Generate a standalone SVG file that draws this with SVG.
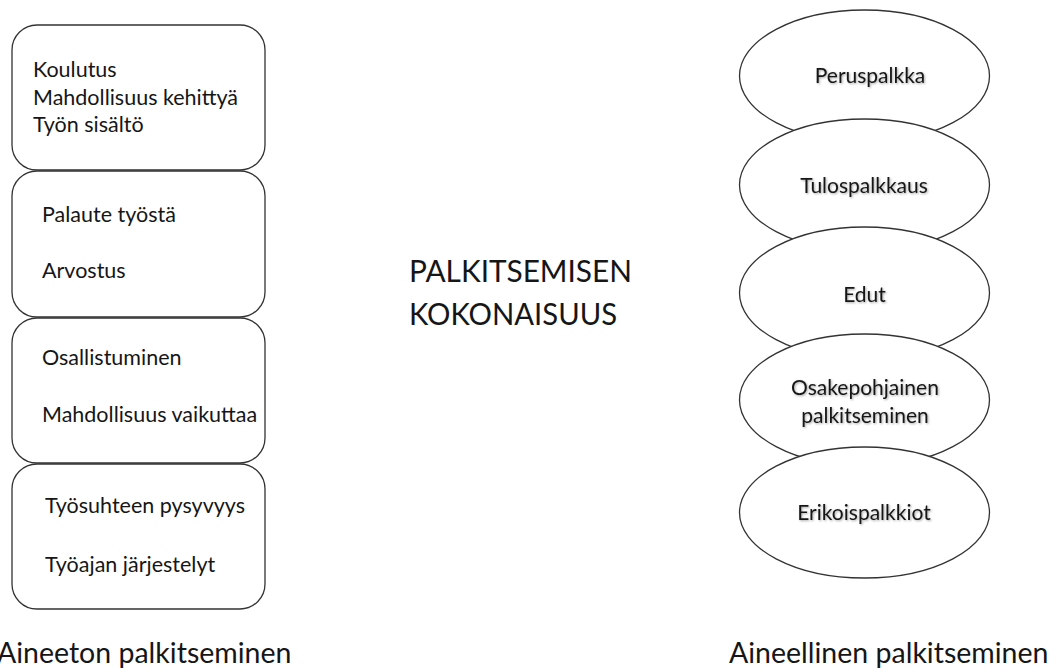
<svg xmlns="http://www.w3.org/2000/svg" width="1051" height="668" viewBox="0 0 1051 668">
<defs>
<filter id="shadow" x="-10%" y="-30%" width="120%" height="160%">
<feDropShadow dx="1" dy="1" stdDeviation="0.8" flood-color="#000000" flood-opacity="0.35"/>
</filter>
</defs>
<style>
.box{fill:#ffffff;stroke:#333333;stroke-width:1.3}
.ell{fill:#ffffff;stroke:#333333;stroke-width:1.3}
text{font-family:Lato,"Liberation Sans",sans-serif;fill:#161616}
.t{font-size:21.5px}
.e{font-size:21px;text-anchor:middle;filter:url(#shadow)}
.title{font-size:30.5px}
.lab{font-size:28.5px}
</style>
<rect width="1051" height="668" fill="#ffffff"/>
<g id="connectors"></g>
<g id="box1">
<rect class="box" x="12" y="25" width="253" height="145" rx="25" ry="25"/>
<text class="t" x="33" y="77">Koulutus</text>
<text class="t" x="33" y="105">Mahdollisuus kehittyä</text>
<text class="t" x="33" y="132">Työn sisältö</text>
</g>
<g id="box2">
<rect class="box" x="12" y="171" width="253" height="146" rx="25" ry="25"/>
<text class="t" x="42" y="222">Palaute työstä</text>
<text class="t" x="42" y="278">Arvostus</text>
</g>
<g id="box3">
<rect class="box" x="12" y="318" width="253" height="145" rx="25" ry="25"/>
<text class="t" x="42" y="365">Osallistuminen</text>
<text class="t" x="42" y="422">Mahdollisuus vaikuttaa</text>
</g>
<g id="box4">
<rect class="box" x="12" y="464" width="253" height="145" rx="25" ry="25"/>
<text class="t" x="45" y="513">Työsuhteen pysyvyys</text>
<text class="t" x="45" y="572">Työajan järjestelyt</text>
</g>
<g id="title">
<text class="title" x="409" y="282" textLength="223" lengthAdjust="spacingAndGlyphs">PALKITSEMISEN</text>
<text class="title" x="409" y="325" textLength="208" lengthAdjust="spacingAndGlyphs">KOKONAISUUS</text>
</g>
<g id="ell1">
<ellipse class="ell" cx="864.5" cy="76" rx="125" ry="66"/>
<text class="e" x="870" y="83">Peruspalkka</text>
</g>
<g id="ell2">
<ellipse class="ell" cx="864.5" cy="185" rx="125" ry="66"/>
<text class="e" x="864" y="193">Tulospalkkaus</text>
</g>
<g id="ell3">
<ellipse class="ell" cx="864.5" cy="293" rx="125" ry="66"/>
<text class="e" x="864.5" y="302">Edut</text>
</g>
<g id="ell4">
<ellipse class="ell" cx="864.5" cy="400" rx="125" ry="66"/>
<text class="e" x="865" y="395">Osakepohjainen</text>
<text class="e" x="865" y="423">palkitseminen</text>
</g>
<g id="ell5">
<ellipse class="ell" cx="864.5" cy="512.5" rx="125" ry="65.5"/>
<text class="e" x="864" y="520">Erikoispalkkiot</text>
</g>
<g id="label-left">
<text class="lab" x="-3" y="663">Aineeton palkitseminen</text>
</g>
<g id="label-right">
<text class="lab" x="729" y="663">Aineellinen palkitseminen</text>
</g>
</svg>
